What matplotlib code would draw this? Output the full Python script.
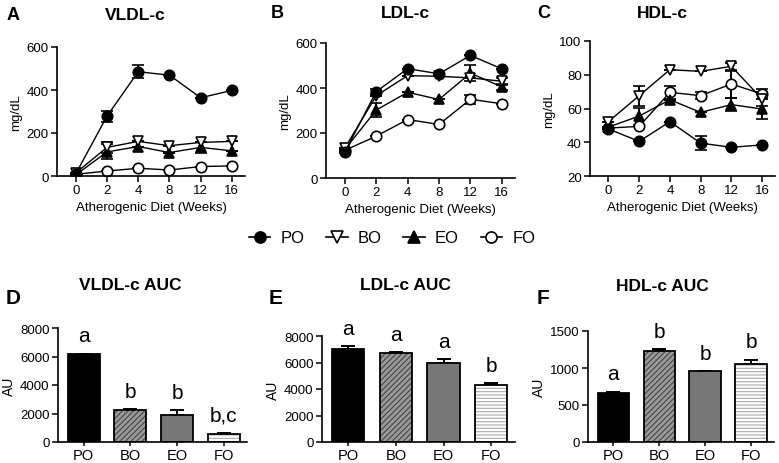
import matplotlib.pyplot as plt
import numpy as np
from matplotlib.lines import Line2D

plt.rcParams['font.family'] = ['Liberation Sans', 'DejaVu Sans']
plt.rcParams['hatch.linewidth'] = 0.8

# time course (weeks on the atherogenic diet)
weeks = ['0', '2', '4', '8', '12', '16']
groups = ['PO', 'BO', 'EO', 'FO']

vldl = {
    'PO': [10, 278, 485, 469, 364, 398],
    'BO': [14, 133, 161, 141, 156, 161],
    'EO': [5, 112, 137, 109, 133, 117],
    'FO': [8, 23, 36, 28, 44, 47],
}
vldl_err = {
    'PO': [0, 25, 30, 0, 0, 0],
    'BO': [0, 25, 0, 0, 0, 0],
    'EO': [0, 35, 0, 0, 25, 0],
    'FO': [0, 0, 0, 0, 0, 0],
}
ldl = {
    'PO': [115, 384, 486, 463, 545, 485],
    'BO': [133, 366, 455, 452, 445, 430],
    'EO': [127, 302, 381, 349, 466, 405],
    'FO': [123, 186, 260, 238, 350, 330],
}
ldl_err = {
    'PO': [0, 10, 0, 0, 0, 0],
    'BO': [0, 0, 0, 0, 0, 15],
    'EO': [0, 32, 0, 0, 35, 15],
    'FO': [0, 0, 0, 0, 20, 0],
}
hdl = {
    'PO': [47.9, 40.5, 52.2, 39.5, 37.0, 38.4],
    'BO': [52.2, 67.6, 83.0, 82.0, 85.0, 65.6],
    'EO': [49.0, 55.5, 65.2, 57.7, 62.3, 59.7],
    'FO': [48.4, 49.4, 69.6, 67.6, 74.5, 68.6],
}
hdl_err = {
    'PO': [0, 0, 0, 4, 0, 0],
    'BO': [0, 6, 0, 0, 2, 4],
    'EO': [0, 5, 0, 0, 4, 6],
    'FO': [0, 0, 4, 2, 8, 3],
}

# area under the curve
vldl_auc = [6150, 2250, 1920, 570]
vldl_auc_err = [40, 60, 300, 60]
vldl_letters = ['a', 'b', 'b', 'b,c']
ldl_auc = [7020, 6700, 5990, 4280]
ldl_auc_err = [200, 60, 250, 150]
ldl_letters = ['a', 'a', 'a', 'b']
hdl_auc = [662, 1226, 957, 1059]
hdl_auc_err = [18, 30, 0, 55]
hdl_letters = ['a', 'b', 'b', 'b']

W, H = 779, 464
fig = plt.figure(figsize=(W / 100, H / 100), dpi=100)


def px_axes(left, right, top, bottom):
    return fig.add_axes([left / W, 1 - bottom / H, (right - left) / W, (bottom - top) / H])


def px_text(x, y, s, **kw):
    fig.text(x / W, 1 - y / H, s, ha='center', va='center', fontweight='bold', **kw)


styles = {
    'PO': dict(marker='o', mfc='black', mec='black'),
    'BO': dict(marker='v', mfc='white', mec='black'),
    'EO': dict(marker='^', mfc='black', mec='black'),
    'FO': dict(marker='o', mfc='white', mec='black'),
}


def style_axes(ax):
    for s in ['top', 'right']:
        ax.spines[s].set_visible(False)
    for s in ['left', 'bottom']:
        ax.spines[s].set_linewidth(1.2)
    ax.tick_params(direction='out', length=4, width=1.1, labelsize=9.5, pad=2)


def line_panel(ax, data, err, ylim, yticks):
    x = np.arange(len(weeks))
    for g in ['FO', 'EO', 'BO', 'PO']:
        ax.errorbar(x, data[g], yerr=err[g], color='black', lw=1, ms=7.5,
                    capsize=4, capthick=1.4, elinewidth=1.4, mew=1.2, **styles[g])
    ax.set_xticks(x)
    ax.set_xticklabels(weeks)
    ax.set_xlim(-0.6, 5.42)
    ax.set_ylim(*ylim)
    ax.set_yticks(yticks)
    ax.set_ylabel('mg/dL', fontsize=9.5, labelpad=3)
    ax.set_xlabel('Atherogenic Diet (Weeks)', fontsize=9.5, labelpad=3)
    style_axes(ax)


def bar_panel(ax, vals, errs, letters, ylim, yticks):
    x = np.arange(len(groups))
    face = ['black', '#9a9a9a', '#777777', 'white']
    hatch = [None, '//////', None, '-----']
    hcol = ['black', '#444444', 'black', '#aaaaaa']
    for i in range(len(groups)):
        ax.bar(x[i], vals[i], width=0.68, color=face[i], hatch=hatch[i],
               edgecolor=hcol[i], lw=0, zorder=2)
        ax.bar(x[i], vals[i], width=0.68, fill=False, edgecolor='black', lw=1.3, zorder=3)
        ax.errorbar(x[i], vals[i], yerr=[[0], [errs[i]]], color='black',
                    capsize=5, capthick=1.4, elinewidth=1.4, zorder=1)
        ax.annotate(letters[i], (x[i], vals[i] + errs[i]), xytext=(0, 6),
                    textcoords='offset points', ha='center', va='bottom',
                    fontsize=15)
    ax.set_xticks(x)
    ax.set_xticklabels(groups)
    ax.set_xlim(-0.55, 3.5)
    ax.set_ylim(*ylim)
    ax.set_yticks(yticks)
    ax.set_ylabel('AU', fontsize=10, labelpad=3)
    style_axes(ax)
    ax.tick_params(axis='x', labelsize=10.5, length=3, pad=1)


axA = px_axes(57, 245, 48, 177)
line_panel(axA, vldl, vldl_err, (0, 600), [0, 200, 400, 600])
axB = px_axes(326, 515, 44, 179)
line_panel(axB, ldl, ldl_err, (0, 600), [0, 200, 400, 600])
axC = px_axes(590, 775, 42, 177)
line_panel(axC, hdl, hdl_err, (20, 100), [20, 40, 60, 80, 100])

axD = px_axes(58, 247, 329, 443)
bar_panel(axD, vldl_auc, vldl_auc_err, vldl_letters, (0, 8000), [0, 2000, 4000, 6000, 8000])
axE = px_axes(322, 515, 337, 443)
bar_panel(axE, ldl_auc, ldl_auc_err, ldl_letters, (0, 8000), [0, 2000, 4000, 6000, 8000])
axF = px_axes(588, 774, 332, 443)
bar_panel(axF, hdl_auc, hdl_auc_err, hdl_letters, (0, 1500), [0, 500, 1000, 1500])

# panel titles and letters
px_text(135, 16, 'VLDL-c', fontsize=12.5)
px_text(405, 13, 'LDL-c', fontsize=12.5)
px_text(662, 13, 'HDL-c', fontsize=12.5)
px_text(130, 285, 'VLDL-c AUC', fontsize=12.5)
px_text(405, 285, 'LDL-c AUC', fontsize=12.5)
px_text(662, 287, 'HDL-c AUC', fontsize=12.5)
px_text(13, 16, 'A', fontsize=13)
px_text(277, 13, 'B', fontsize=13)
px_text(544, 13, 'C', fontsize=13)
px_text(13, 298, 'D', fontsize=15)
px_text(276, 298, 'E', fontsize=15)
px_text(543, 298, 'F', fontsize=15)

handles = [Line2D([], [], color='black', lw=1.2, ms=8, mew=1.2, **styles[g]) for g in groups]
fig.legend(handles, groups, loc='center', bbox_to_anchor=(392 / W, 1 - 239 / H),
           ncol=4, frameon=False, fontsize=12, handlelength=1.3, columnspacing=1.3,
           handletextpad=0.6)

fig.savefig('out.png', dpi=100)
